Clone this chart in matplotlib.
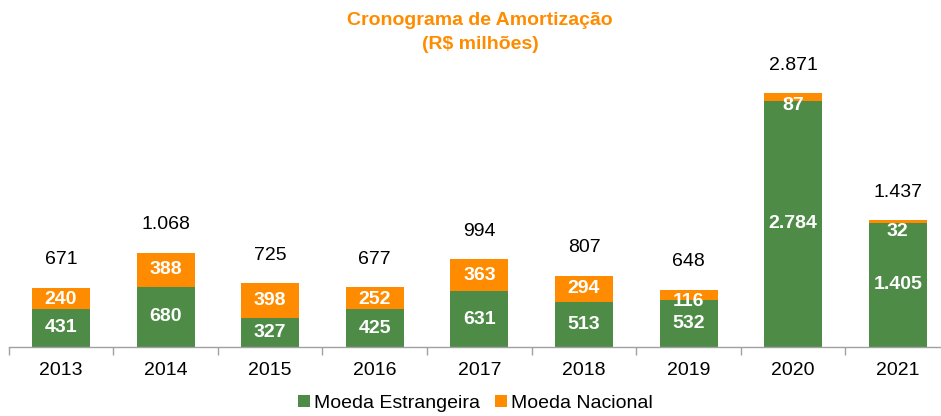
import matplotlib
matplotlib.use("Agg")
import matplotlib.pyplot as plt
import numpy as np

plt.rcParams['font.family'] = ['Liberation Sans', 'DejaVu Sans']

years = ["2013", "2014", "2015", "2016", "2017", "2018", "2019", "2020", "2021"]
moeda_estrangeira = [431, 680, 327, 425, 631, 513, 532, 2784, 1405]
moeda_nacional = [240, 388, 398, 252, 363, 294, 116, 87, 32]
totais = [671, 1068, 725, 677, 994, 807, 648, 2871, 1437]

GREEN = "#4E8B47"
ORANGE = "#FF8C00"

def fmt(v):
    return f"{v:,}".replace(",", ".")

fig = plt.figure(figsize=(9.41, 4.16), dpi=100)
ax = fig.add_axes([0.0092, 0.166, 1.0004, 0.680])

x = np.arange(len(years))
w = 0.555
ax.bar(x, moeda_estrangeira, w, color=GREEN, label="Moeda Estrangeira")
ax.bar(x, moeda_nacional, w, bottom=moeda_estrangeira, color=ORANGE, label="Moeda Nacional")

for i in range(len(years)):
    me = moeda_estrangeira[i]
    mn = moeda_nacional[i]
    top = me + mn
    ax.text(x[i], me / 2, fmt(me), ha="center", va="center", color="white",
            fontsize=14, fontweight="bold")
    yl = min(me + mn / 2, top - 135)
    ax.text(x[i], yl, fmt(mn), ha="center", va="center", color="white",
            fontsize=14, fontweight="bold")
    ax.annotate(fmt(totais[i]), (x[i], top), xytext=(0, 20), textcoords="offset points",
                ha="center", va="center", fontsize=14, color="black")

ax.set_xlim(-0.5, len(years) - 0.5)
ax.set_ylim(0, 3200)
ax.set_yticks([])
ax.set_xticks(x)
ax.set_xticklabels(years, fontsize=14)
ax.tick_params(axis="x", which="major", length=0, pad=11)
ax.set_xticks(np.arange(-0.5, len(years), 1.0), minor=True)
ax.tick_params(axis="x", which="minor", length=6, color="#A0A0A0", width=1)
for s in ["top", "right", "left"]:
    ax.spines[s].set_visible(False)
ax.spines["bottom"].set_color("#A0A0A0")
ax.spines["bottom"].set_linewidth(1)

fig.text(0.51, 0.950, "Cronograma de Amortização", ha="center", va="center",
         color=ORANGE, fontsize=14, fontweight="bold")
fig.text(0.51, 0.893, "(R$ milhões)", ha="center", va="center",
         color=ORANGE, fontsize=14, fontweight="bold")

fig.legend(loc="center", bbox_to_anchor=(0.505, 0.030), ncol=2, frameon=False,
           fontsize=14, handlelength=0.6, handleheight=0.6, handletextpad=0.2,
           columnspacing=0.8, borderpad=0.1)

fig.savefig("out.png", dpi=100)
